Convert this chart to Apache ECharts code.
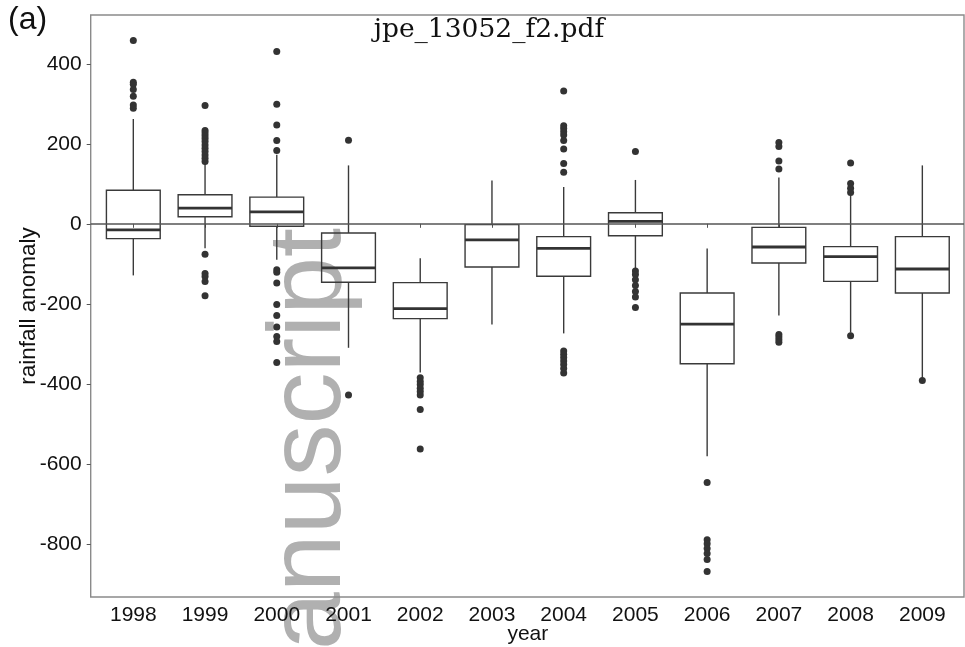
<!DOCTYPE html>
<html>
<head>
  <meta charset="UTF-8">
  <script src="https://cdn.jsdelivr.net/npm/echarts@6/dist/echarts.min.js"></script>
  <title>rainfall anomaly</title>
</head>
<body style="margin:0">
  <div id="main" style="width:965px;height:647px;"></div>
  <script type="text/javascript">
    var years = ['1998', '1999', '2000', '2001', '2002', '2003',
                 '2004', '2005', '2006', '2007', '2008', '2009'];

    // lower whisker, Q1, median, Q3, upper whisker
    var boxes = [
      [-129, -37, -15, 84, 262],
      [-61, 17.5, 39, 72.5, 152],
      [-90, -6, 30, 66.7, 172.5],
      [-310, -146, -110, -23, 146],
      [-372, -237, -212, -147, -86],
      [-252, -108, -40, -2, 108],
      [-274, -131, -61.5, -32, 92],
      [-111, -30, 6, 27.6, 109.6],
      [-581, -350, -251, -173, -62],
      [-229, -98, -58, -9, 116],
      [-272, -144, -82, -57, 72],
      [-385, -173, -113, -32, 146]
    ];

    var outliers = [
      ['1998', 458], ['1998', 354], ['1998', 349], ['1998', 336], ['1998', 319], ['1998', 297], ['1998', 289],
      ['1999', 296], ['1999', 233], ['1999', 227], ['1999', 220], ['1999', 213], ['1999', 206], ['1999', 197],
      ['1999', 189], ['1999', 181], ['1999', 172], ['1999', 164], ['1999', 156],
      ['1999', -76], ['1999', -124], ['1999', -132], ['1999', -144], ['1999', -180],
      ['2000', 431], ['2000', 299], ['2000', 247], ['2000', 208], ['2000', 183],
      ['2000', -115], ['2000', -121], ['2000', -148], ['2000', -202], ['2000', -229],
      ['2000', -258], ['2000', -282], ['2000', -294], ['2000', -347],
      ['2001', 209], ['2001', -428],
      ['2002', -385], ['2002', -394], ['2002', -402], ['2002', -411], ['2002', -419], ['2002', -428],
      ['2002', -464], ['2002', -563],
      ['2004', 332], ['2004', 245], ['2004', 238], ['2004', 230], ['2004', 222], ['2004', 208],
      ['2004', 187], ['2004', 151], ['2004', 129],
      ['2004', -318], ['2004', -326], ['2004', -334], ['2004', -343], ['2004', -352], ['2004', -362], ['2004', -373],
      ['2005', 181], ['2005', -118], ['2005', -127], ['2005', -140], ['2005', -154], ['2005', -169],
      ['2005', -183], ['2005', -209],
      ['2006', -647], ['2006', -790], ['2006', -800], ['2006', -812], ['2006', -824], ['2006', -839], ['2006', -869],
      ['2007', 203], ['2007', 193], ['2007', 157], ['2007', 137],
      ['2007', -277], ['2007', -283], ['2007', -290], ['2007', -296],
      ['2008', 152], ['2008', 101], ['2008', 89], ['2008', 78], ['2008', -280],
      ['2009', -392]
    ];

    var yTicks = [-800, -600, -400, -200, 0, 200, 400];
    var yMin = -933;
    var yMax = 522;

    var boxData = years.map(function (y, i) { return [y].concat(boxes[i]); });

    function renderBox(params, api) {
      var x = api.value(0);
      var lo = api.coord([x, api.value(1)]);
      var q1 = api.coord([x, api.value(2)]);
      var md = api.coord([x, api.value(3)]);
      var q3 = api.coord([x, api.value(4)]);
      var hi = api.coord([x, api.value(5)]);
      var half = api.size([1, 0])[0] * 0.375;
      var cx = lo[0];
      var stroke = { stroke: '#3a3a3a', lineWidth: 1.4 };
      return {
        type: 'group',
        children: [
          { type: 'line', shape: { x1: cx, y1: hi[1], x2: cx, y2: q3[1] }, style: stroke },
          { type: 'line', shape: { x1: cx, y1: q1[1], x2: cx, y2: lo[1] }, style: stroke },
          { type: 'rect', shape: { x: cx - half, y: q3[1], width: half * 2, height: q1[1] - q3[1] },
            style: { fill: 'none', stroke: '#3a3a3a', lineWidth: 1.4 } },
          { type: 'line', shape: { x1: cx - half, y1: md[1], x2: cx + half, y2: md[1] },
            style: { stroke: '#333', lineWidth: 2.8 } }
        ]
      };
    }

    var font = 'Liberation Sans';
    var myChart = echarts.init(document.getElementById('main'));

    var option = {
      animation: false,
      grid: [
        { left: 97.45, right: 6.8, top: 15, bottom: 50, containLabel: false, outerBoundsMode: 'none' },
        { left: 90.7, right: 1, top: 15, bottom: 50, containLabel: false, outerBoundsMode: 'none',
          show: true, borderColor: '#8a8a8a', borderWidth: 1.4, backgroundColor: 'transparent' }
      ],
      xAxis: [
        {
          type: 'category', gridIndex: 0, data: years,
          axisLine: { show: false },
          axisTick: { show: true, alignWithLabel: true, length: 4, lineStyle: { color: '#555' } },
          axisLabel: { margin: 8, fontSize: 21, color: '#111', fontFamily: font },
          splitLine: { show: false },
          name: 'year', nameLocation: 'middle', nameGap: 27, nameMoveOverlap: false,
          nameTextStyle: { fontSize: 21, color: '#111', fontFamily: font }
        },
        { type: 'value', gridIndex: 1, min: 0, max: 1, show: false }
      ],
      yAxis: [
        { type: 'value', gridIndex: 0, min: yMin, max: yMax, show: false },
        {
          type: 'value', gridIndex: 1, min: yMin, max: yMax,
          axisLine: { show: false },
          axisTick: { show: true, length: 4, customValues: yTicks, lineStyle: { color: '#555' } },
          axisLabel: { customValues: yTicks, margin: 9, fontSize: 21, color: '#111', fontFamily: font },
          splitLine: { show: false },
          name: 'rainfall anomaly', nameLocation: 'middle', nameGap: 50, nameMoveOverlap: false,
          nameTextStyle: { fontSize: 22.5, color: '#111', fontFamily: font }
        }
      ],
      series: [
        {
          type: 'custom', xAxisIndex: 0, yAxisIndex: 0, data: boxData,
          encode: { x: 0, y: [1, 2, 3, 4, 5] },
          renderItem: renderBox, z: 2, silent: true
        },
        {
          type: 'scatter', xAxisIndex: 0, yAxisIndex: 0, data: outliers,
          symbol: 'circle', symbolSize: 7, itemStyle: { color: '#333', opacity: 1 }, z: 4, silent: true
        },
        {
          type: 'line', xAxisIndex: 1, yAxisIndex: 1, data: [], z: 3,
          markLine: {
            silent: true, symbol: 'none', label: { show: false },
            lineStyle: { color: '#555', width: 1.5, type: 'solid' },
            data: [{ yAxis: 0 }]
          }
        }
      ],
      graphic: [
        { type: 'text', x: 8, y: 20,
          style: { text: '(a)', fontSize: 32, fontFamily: font, fill: '#111', verticalAlign: 'middle' } },
        { type: 'text', x: 489, y: 30,
          style: { text: 'jpe_13052_f2.pdf', fontSize: 26.5, fontFamily: 'DejaVu Serif', fill: '#111',
                   align: 'center', verticalAlign: 'middle' } },
        { type: 'text', x: 311, y: 228, rotation: Math.PI / 2, z: -10,
          style: { text: 'manuscript', fontSize: 104, fontFamily: font, fill: '#b0b0b0',
                   align: 'right', verticalAlign: 'middle' } }
      ]
    };

    myChart.setOption(option);
  </script>
</body>
</html>
